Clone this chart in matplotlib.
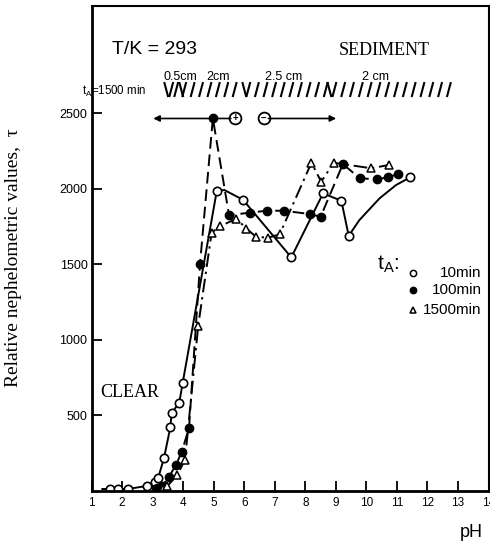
import numpy as np
import matplotlib
matplotlib.use("Agg")
import matplotlib.pyplot as plt

SANS = ["Liberation Sans", "DejaVu Sans"]
SERIF = ["Liberation Serif", "DejaVu Serif"]

# %% data (pH, relative nephelometric value)

# t_A = 10 min, open circles, solid line
ph_10 = [1.59, 1.86, 2.19, 2.80, 3.07, 3.18, 3.37, 3.58, 3.62, 3.87, 3.98,
         5.10, 5.96, 7.54, 8.58, 9.18, 9.42, 11.43]
val_10 = [10, 10, 10, 30, 58, 83, 215, 420, 513, 581, 710,
          1985, 1925, 1544, 1968, 1919, 1687, 2074]
# path of the hand drawn solid curve
ph_10_line = [1.35, 1.59, 1.86, 2.19, 2.80, 3.07, 3.18, 3.37, 3.58, 3.62, 3.87,
              3.98, 5.10, 5.35, 5.96, 7.54, 8.58, 9.18, 9.42, 9.77, 10.43,
              10.97, 11.43]
val_10_line = [10, 10, 10, 10, 30, 58, 83, 215, 420, 513, 581,
               710, 1985, 1990, 1925, 1544, 1968, 1919, 1687, 1791, 1935,
               2023, 2074]

# t_A = 100 min, filled circles, dashed line
ph_100 = [3.15, 3.31, 3.53, 3.76, 3.95, 4.19, 4.55, 4.97, 5.50, 6.18, 6.73,
          7.30, 8.14, 8.50, 9.23, 9.78, 10.34, 10.70, 11.03]
val_100 = [15, 30, 89, 169, 255, 414, 1500, 2465, 1824, 1840, 1853,
           1853, 1831, 1813, 2162, 2068, 2061, 2074, 2096]

# t_A = 1500 min, open triangles, dash-dot line
ph_1500 = [3.35, 3.48, 3.80, 4.06, 4.49, 4.93, 5.20, 5.74, 6.07, 6.38, 6.78,
           7.16, 8.20, 8.52, 8.93, 10.16, 10.73]
val_1500 = [10, 30, 100, 205, 1090, 1707, 1750, 1800, 1735, 1681, 1674,
            1697, 2171, 2045, 2171, 2134, 2156]

# charge arrows
arrow_y = 2464
arrow_left, plus_x, minus_x, arrow_right = 3.02, 5.71, 6.64, 9.01

# sediment zones above the curves
zone_labels = ["0.5cm", "2cm", "2.5 cm", "2 cm"]
zone_x = [3.34, 4.77, 6.67, 9.84]

x_ticks = list(range(1, 15))
y_ticks = [500, 1000, 1500, 2000, 2500]

# %% figure
fig = plt.figure(figsize=(4.9, 5.45), dpi=100)
ax = fig.add_axes([0.187, 0.1, 0.81, 0.889])
ax.set_xlim(1, 14)
ax.set_ylim(0, 3209)


def px2ph(px):
    return 1 + (px - 91.5) / 30.5


def px2val(py):
    return (490.5 - py) / 0.151


ax.plot(ph_10_line, val_10_line, "-", color="black", lw=1.4)
ax.plot(ph_10, val_10, "o", ms=6, mfc="white", mec="black", mew=1.2)

ax.plot(ph_100, val_100, color="black", lw=1.4, ls=(0, (6, 3)),
        marker="o", ms=6, mfc="black", mec="black")

ax.plot(ph_1500, val_1500, color="black", lw=1.4, ls=(0, (7, 2.5, 1.2, 2.5)),
        marker="^", ms=5.5, mfc="white", mec="black", mew=1.1)

# charge arrows
ax.annotate("", xy=(arrow_left, arrow_y), xytext=(plus_x - 0.15, arrow_y),
            arrowprops=dict(arrowstyle="-|>", color="black", lw=1.2,
                            mutation_scale=9, shrinkA=0, shrinkB=0))
ax.annotate("", xy=(arrow_right, arrow_y), xytext=(minus_x + 0.15, arrow_y),
            arrowprops=dict(arrowstyle="-|>", color="black", lw=1.2,
                            mutation_scale=9, shrinkA=0, shrinkB=0))
ax.plot([plus_x, minus_x], [arrow_y, arrow_y], "o", ms=8.5, mfc="white",
        mec="black", mew=1.3)
ax.text(plus_x, arrow_y, "+", ha="center", va="center", fontsize=7,
        fontweight="bold", family=SANS)
ax.text(minus_x, arrow_y, "\u2013", ha="center", va="center", fontsize=7,
        fontweight="bold", family=SANS)

# hatching marking the sediment layer
fwd = ([171, 176] + list(np.arange(184, 241, 8.4)) + list(np.arange(248, 326, 8.6))
       + list(np.arange(334, 450, 8.8)))
back = [166, 181, 244, 329]
for x in fwd:
    ax.plot([px2ph(x - 2), px2ph(x + 2)], [px2val(97), px2val(82)], color="black",
            lw=1.5, clip_on=False, solid_capstyle="butt")
for x in back:
    ax.plot([px2ph(x - 2), px2ph(x + 2)], [px2val(82), px2val(97)], color="black",
            lw=1.5, clip_on=False, solid_capstyle="butt")

for lab, x in zip(zone_labels, zone_x):
    ax.text(x, px2val(80), lab, fontsize=9, family=SANS, va="baseline")
ax.text(px2ph(82), px2val(95), "t$_\\mathregular{A}$=1500 min", fontsize=8.3,
        family=SANS, va="baseline", clip_on=False)

ax.text(px2ph(112), px2val(54), "T/K = 293", fontsize=14, family=SANS,
        va="baseline")
ax.text(px2ph(338), px2val(55), "SEDIMENT", fontsize=13, family=SERIF,
        va="baseline")
ax.text(px2ph(100), px2val(397), "CLEAR", fontsize=13, family=SERIF,
        va="baseline")

# legend drawn by hand
ax.text(px2ph(377), px2val(269), "t$_\\mathregular{A}$:", fontsize=15,
        family=SANS, va="baseline")
leg_rows = [("10min", "o", "white", 273), ("100min", "o", "black", 290),
            ("1500min", "^", "white", 310)]
for lab, mk, fc, py in leg_rows:
    ax.plot(px2ph(413), px2val(py), mk, ms=4.5, mfc=fc, mec="black", mew=1.1)
    ax.text(px2ph(481), px2val(py), lab, fontsize=11, family=SANS,
            ha="right", va="center")

# axes styling
for side in ["left", "bottom"]:
    ax.spines[side].set_linewidth(2)
for side in ["top", "right"]:
    ax.spines[side].set_linewidth(1.5)
ax.set_xticks(x_ticks)
ax.set_xticklabels([str(t) for t in x_ticks], family=SANS, fontsize=8.5)
ax.set_yticks(y_ticks)
ax.set_yticklabels([str(t) for t in y_ticks], family=SANS, fontsize=9)
ax.tick_params(axis="x", direction="in", length=7, width=1.3, pad=5)
ax.tick_params(axis="y", direction="in", length=7, width=1.3, pad=3)

ax.text(px2ph(471), px2val(537), "pH", fontsize=13, family=SANS, ha="center",
        va="baseline", clip_on=False)
ax.set_ylabel("Relative nephelometric values,  \u03c4", family=SERIF,
              fontsize=14)
ax.yaxis.set_label_coords(-0.175, 0.48)

fig.savefig("out.png", dpi=100)
